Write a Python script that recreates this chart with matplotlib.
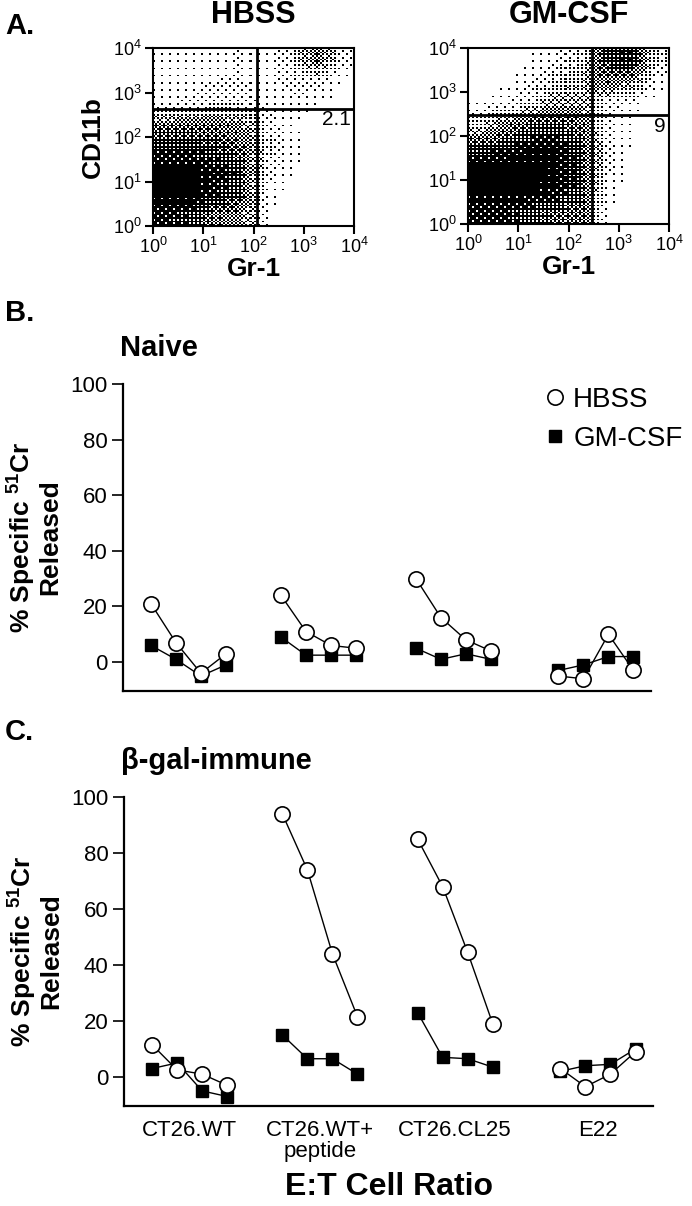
import numpy as np
import matplotlib.pyplot as plt
from matplotlib.lines import Line2D

plt.rcParams['font.family'] = ['Liberation Sans', 'DejaVu Sans']
plt.rcParams['mathtext.default'] = 'regular'

# ---- Panel A: dot-plot density ----
# fraction of each half-decade cell covered by dots;
# rows: CD11b 10^4 (top) -> 10^0 (bottom), columns: Gr-1 10^0 -> 10^4
hbss_density = [
    [0.04, 0.04, 0.06, 0.10, 0.06, 0.15, 0.60, 0.15],
    [0.04, 0.06, 0.10, 0.10, 0.05, 0.15, 0.15, 0.03],
    [0.08, 0.12, 0.15, 0.15, 0.06, 0.06, 0.04, 0.00],
    [0.60, 0.60, 0.60, 0.50, 0.15, 0.04, 0.00, 0.00],
    [0.80, 0.80, 0.70, 0.60, 0.20, 0.06, 0.00, 0.00],
    [1.00, 1.00, 0.90, 0.75, 0.15, 0.04, 0.00, 0.00],
    [1.00, 1.00, 0.85, 0.70, 0.08, 0.00, 0.00, 0.00],
    [0.85, 0.80, 0.55, 0.50, 0.04, 0.00, 0.00, 0.00],
]
gmcsf_density = [
    [0.00, 0.00, 0.03, 0.10, 0.20, 0.75, 0.85, 0.20],
    [0.00, 0.02, 0.07, 0.20, 0.30, 0.60, 0.45, 0.06],
    [0.03, 0.07, 0.20, 0.40, 0.40, 0.15, 0.06, 0.00],
    [0.30, 0.50, 0.70, 0.75, 0.60, 0.12, 0.03, 0.00],
    [0.70, 0.80, 0.90, 0.90, 0.70, 0.15, 0.03, 0.00],
    [1.00, 1.00, 1.00, 0.95, 0.75, 0.12, 0.00, 0.00],
    [1.00, 1.00, 1.00, 0.90, 0.75, 0.06, 0.00, 0.00],
    [0.85, 0.85, 0.75, 0.65, 0.60, 0.04, 0.00, 0.00],
]
hbss_gate = (117, 430)     # Gr-1 gate, CD11b gate
gmcsf_gate = (295, 300)
hbss_pct = '2.1'
gmcsf_pct = '9'

# ---- Panels B and C: % specific 51Cr release, 4 E:T ratios per target ----
targets = ['CT26.WT', 'CT26.WT+\npeptide', 'CT26.CL25', 'E22']
naive_hbss = [[21, 7, -4, 3], [24, 11, 6, 5], [30, 16, 8, 4], [-5, -6, 10, -3]]
naive_gmcsf = [[6, 1, -5, -1], [9, 2.5, 2.5, 2.5], [5, 1, 3, 1], [-3, -1, 2, 2]]
immune_hbss = [[11.5, 2.5, 1, -3], [94, 74, 44, 21.5], [85, 68, 44.5, 19], [3, -3.5, 1, 9]]
immune_gmcsf = [[3, 5, -5, -7], [15, 6.5, 6.5, 1], [23, 7, 6.5, 3.5], [2, 4, 4.5, 10]]

group_start = [0, 5.2, 10.6, 16.3]


def halftone(grid, n=100):
    # ordered dither so the density looks like a dot plot
    g = np.array(grid)[::-1]
    centers = (np.arange(g.shape[1]) + 0.5) / g.shape[1] * 4
    fine = (np.arange(n) + 0.5) / n * 4
    rows = np.array([np.interp(fine, centers, r) for r in g])
    full = np.array([np.interp(fine, centers, c) for c in rows.T]).T
    bayer = np.array([[0, 8, 2, 10], [12, 4, 14, 6], [3, 11, 1, 9], [15, 7, 13, 5]]) / 16 + 1 / 32
    thr = np.tile(bayer, (n // 4, n // 4))
    return (full > thr).astype(float)


fig = plt.figure(figsize=(6.92, 12.06), dpi=100)


def dot_plot(rect, density, gate, pct, title, ylabel):
    ax = fig.add_axes(rect)
    edges = np.logspace(0, 4, 101)
    ax.pcolormesh(edges, edges, halftone(density), cmap='gray_r', vmin=0, vmax=1,
                  shading='flat', edgecolors='none', antialiased=False)
    ax.set_xscale('log')
    ax.set_yscale('log')
    ax.set_xlim(1, 1e4)
    ax.set_ylim(1, 1e4)
    ax.set_xticks([1, 10, 100, 1e3, 1e4])
    ax.set_yticks([1, 10, 100, 1e3, 1e4])
    ax.axvline(gate[0], color='black', lw=2)
    ax.axhline(gate[1], color='black', lw=2)
    for s in ax.spines.values():
        s.set_linewidth(1.5)
    ax.tick_params(which='major', direction='out', length=6, width=1.5, labelsize=13, pad=2)
    ax.tick_params(which='minor', direction='out', length=4, width=1.2)
    ax.text(8.5e3, gate[1] * 0.92, pct, ha='right', va='top', fontsize=15)
    ax.set_xlabel('Gr-1', fontsize=19, fontweight='bold', labelpad=0)
    if ylabel:
        ax.set_ylabel(ylabel, fontsize=19, fontweight='bold', labelpad=6)
    ax.set_title(title, fontsize=22, fontweight='bold', pad=18)
    return ax


dot_plot([0.2211, 0.8126, 0.2905, 0.1476], hbss_density, hbss_gate, hbss_pct, 'HBSS', 'CD11b')
dot_plot([0.6763, 0.8143, 0.2905, 0.1459], gmcsf_density, gmcsf_gate, gmcsf_pct, 'GM-CSF', None)


def lysis_plot(rect, hbss, gmcsf, title, show_x, legend):
    ax = fig.add_axes(rect)
    for g in range(4):
        xs = [group_start[g] + i for i in range(4)]
        ax.plot(xs, gmcsf[g], '-', color='black', lw=1.0, marker='s', ms=9,
                mfc='black', mec='black', zorder=2)
        ax.plot(xs, hbss[g], '-', color='black', lw=1.0, marker='o', ms=11,
                mfc='white', mec='black', mew=1.2, zorder=3)
    ax.set_xlim(-1.12, 20.0)
    ax.set_ylim(-10.4, 100)
    ax.set_yticks([0, 20, 40, 60, 80, 100])
    for s in ['top', 'right']:
        ax.spines[s].set_visible(False)
    ax.spines['left'].set_linewidth(1.6)
    ax.spines['bottom'].set_linewidth(1.6)
    ax.tick_params(axis='y', direction='out', length=8, width=1.2, labelsize=16, pad=3)
    if show_x:
        ax.set_xticks([s + 1.5 for s in group_start])
        ax.set_xticklabels(targets, fontsize=16, linespacing=1.0)
        ax.tick_params(axis='x', length=0, pad=10)
        ax.set_xlabel('E:T Cell Ratio', fontsize=23, fontweight='bold', labelpad=7)
    else:
        ax.set_xticks([])
    ax.set_ylabel('% Specific $^{51}$Cr\nReleased', fontsize=19, fontweight='bold',
                  labelpad=6, linespacing=1.0)
    ax.text(-0.005, 1.07, title, transform=ax.transAxes, fontsize=21,
            fontweight='bold', ha='left', va='bottom')
    if legend:
        handles = [Line2D([], [], ls='none', marker='o', ms=11, mfc='white', mec='black', mew=1.2),
                   Line2D([], [], ls='none', marker='s', ms=9, mfc='black', mec='black')]
        ax.legend(handles, ['HBSS', 'GM-CSF'], loc='upper left', bbox_to_anchor=(0.8, 0.99),
                  frameon=False, fontsize=20, handlelength=0.7, handletextpad=0.3,
                  labelspacing=0.45, borderpad=0, borderaxespad=0)
    return ax


lysis_plot([0.1777, 0.427, 0.763, 0.2546], naive_hbss, naive_gmcsf, 'Naive', False, True)
lysis_plot([0.1792, 0.0829, 0.7645, 0.2562], immune_hbss, immune_gmcsf, 'β-gal-immune', True, False)

fig.text(0.007, 0.99, 'A.', fontsize=21, fontweight='bold', va='top')
fig.text(0.007, 0.752, 'B.', fontsize=21, fontweight='bold', va='top')
fig.text(0.007, 0.405, 'C.', fontsize=21, fontweight='bold', va='top')

fig.savefig('out.png', dpi=100)
